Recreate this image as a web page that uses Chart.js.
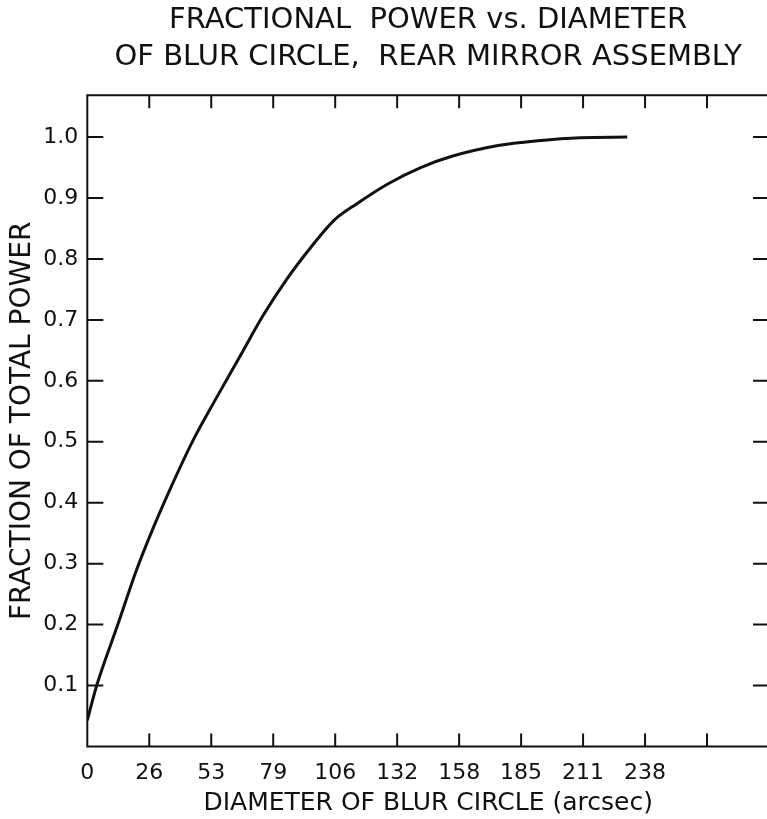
<!DOCTYPE html>
<html>
<head>
<meta charset="utf-8">
<title>Fractional power vs. diameter of blur circle</title>
<script src="https://cdn.jsdelivr.net/npm/chart.js@4"></script>
<style>
  html, body { margin: 0; padding: 0; background: #fff; overflow: hidden; }
  #wrap { width: 772px; height: 819px; }
</style>
</head>
<body>
<div id="wrap"><canvas id="blurChart"></canvas></div>
<script>
// blur circle diameter (arcsec) and fraction of total power
const diameter = [0, 4, 13, 21, 28, 35, 45, 55, 65, 75, 85, 95, 105, 115, 128, 142, 155, 175, 192, 210, 230];
const fraction = [0.043, 0.100, 0.200, 0.290, 0.358, 0.420, 0.502, 0.572, 0.640, 0.708, 0.767, 0.818, 0.863, 0.891, 0.923, 0.950, 0.968, 0.986, 0.994, 0.999, 1.0];

// x ticks sit every 26.4 arcsec, labels are rounded
const xTickStep = 26.4;
const xTickLabels = ['0', '26', '53', '79', '106', '132', '158', '185', '211', '238', ''];
const xMax = 290.4;

const yTicks = [0.1, 0.2, 0.3, 0.4, 0.5, 0.6, 0.7, 0.8, 0.9, 1.0];
const yMax = 1.0686;

const ink = '#111';
const letter = 'DejaVu Sans';

// frame and the inward tick marks on all four sides
const frameTicks = {
    id: 'frameTicks',
    afterDatasetsDraw(chart) {
        const ctx = chart.ctx;
        const a = chart.chartArea;
        const xs = chart.scales.x;
        const ys = chart.scales.y;
        ctx.save();
        ctx.strokeStyle = ink;
        ctx.lineWidth = 2;
        ctx.strokeRect(a.left, a.top, a.right - a.left, a.bottom - a.top);
        ctx.beginPath();
        for (let i = 1; i < xTickLabels.length; i++) {
            const px = xs.getPixelForValue(i * xTickStep);
            ctx.moveTo(px, a.bottom);
            ctx.lineTo(px, a.bottom - 13);
            ctx.moveTo(px, a.top);
            ctx.lineTo(px, a.top + 13);
        }
        yTicks.forEach(v => {
            const py = ys.getPixelForValue(v);
            ctx.moveTo(a.left, py);
            ctx.lineTo(a.left + 16, py);
            ctx.moveTo(a.right, py);
            ctx.lineTo(a.right - 16, py);
        });
        ctx.stroke();
        ctx.restore();
    }
};

const ctx = document.getElementById('blurChart').getContext('2d');
new Chart(ctx, {
    type: 'line',
    data: {
        datasets: [{
            data: diameter.map((d, i) => ({ x: d, y: fraction[i] })),
            borderColor: ink,
            borderWidth: 3,
            pointRadius: 0,
            cubicInterpolationMode: 'monotone',
            fill: false
        }]
    },
    options: {
        responsive: true,
        maintainAspectRatio: false,
        animation: false,
        layout: { padding: { left: 0, top: 0, right: 3, bottom: 0 } },
        plugins: {
            legend: { display: false },
            tooltip: { enabled: false },
            title: {
                display: true,
                fullSize: false,
                text: ['FRACTIONAL  POWER vs. DIAMETER', 'OF BLUR CIRCLE,  REAR MIRROR ASSEMBLY'],
                color: ink,
                font: { family: letter, size: 29, weight: 'normal', lineHeight: 1.28 },
                padding: { top: 2, bottom: 19 }
            }
        },
        scales: {
            x: {
                type: 'linear',
                min: 0,
                max: xMax,
                grid: { display: false, drawTicks: false, tickLength: 0 },
                border: { display: false },
                afterBuildTicks: scale => {
                    scale.ticks = xTickLabels.map((l, i) => ({ value: i * xTickStep }));
                },
                afterFit: scale => { scale.height = 72.5; },
                ticks: {
                    autoSkip: false,
                    maxRotation: 0,
                    padding: 14,
                    color: ink,
                    font: { family: letter, size: 22 },
                    callback: (v, i) => xTickLabels[i]
                },
                title: {
                    display: true,
                    text: 'DIAMETER OF BLUR CIRCLE (arcsec)',
                    color: ink,
                    font: { family: letter, size: 25, lineHeight: 1.2 },
                    padding: { top: 0, bottom: 1 }
                }
            },
            y: {
                min: 0,
                max: yMax,
                grid: { display: false, drawTicks: false, tickLength: 0 },
                border: { display: false },
                afterBuildTicks: scale => {
                    scale.ticks = yTicks.map(v => ({ value: v }));
                },
                afterFit: scale => { scale.width = 87.3; },
                ticks: {
                    padding: 9,
                    color: ink,
                    font: { family: letter, size: 22 },
                    callback: v => v.toFixed(1)
                },
                title: {
                    display: true,
                    text: 'FRACTION OF TOTAL POWER',
                    color: ink,
                    font: { family: letter, size: 28, lineHeight: 1.2 },
                    padding: { top: 6, bottom: 0 }
                }
            }
        }
    },
    plugins: [frameTicks]
});
</script>
</body>
</html>
